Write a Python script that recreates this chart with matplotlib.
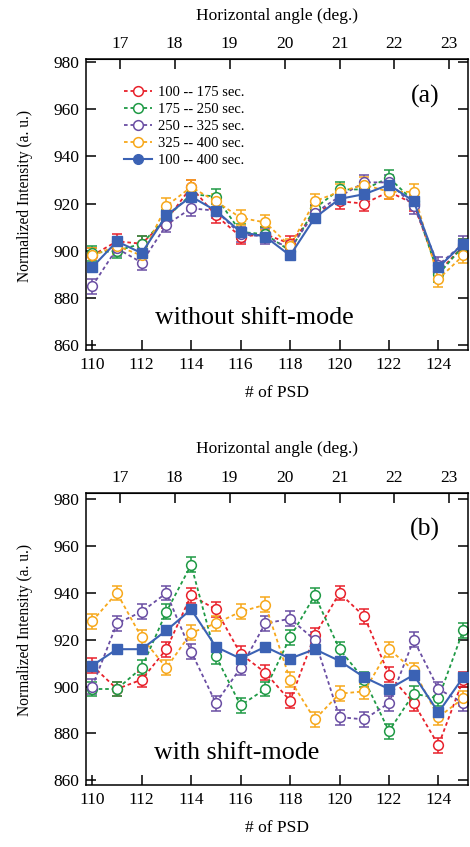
import numpy as np
import matplotlib.pyplot as plt
from matplotlib.lines import Line2D

plt.rcParams['font.family'] = ['Liberation Serif', 'DejaVu Serif']
plt.rcParams['mathtext.fontset'] = 'stix'

psd = np.arange(110, 126)

labels = ['100 -- 175 sec.', '175 -- 250 sec.', '250 -- 325 sec.', '325 -- 400 sec.', '100 -- 400 sec.']
colors = ['#e8212b', '#1f9a45', '#6a4ea3', '#f7a81b', '#3b62b4']

# panel (a): without shift-mode
a_red    = [898, 904, 903, 913, 927, 915, 906, 907, 903, 916, 921, 920, 925, 920, 891, 902]
a_green  = [899, 900, 903, 914, 924, 923, 908, 907, 900, 918, 926, 926, 931, 921, 890, 902]
a_purple = [885, 901, 895, 911, 918, 917, 907, 906, 901, 916, 923, 929, 929, 919, 894, 903]
a_orange = [898, 902, 898, 919, 927, 921, 914, 912, 902, 921, 925, 928, 925, 925, 888, 898]
a_blue   = [893, 904, 899, 915, 923, 917, 908, 906, 898, 914, 922, 924, 928, 921, 893, 903]

# panel (b): with shift-mode
b_red    = [909, 899, 903, 916, 939, 933, 914, 906, 894, 922, 940, 930, 905, 893, 875, 903]
b_green  = [899, 899, 908, 932, 952, 913, 892, 899, 921, 939, 916, 903, 881, 897, 895, 924]
b_purple = [900, 927, 932, 940, 915, 893, 908, 927, 929, 920, 887, 886, 893, 920, 899, 893]
b_orange = [928, 940, 921, 908, 923, 927, 932, 935, 903, 886, 897, 898, 916, 907, 887, 895]
b_blue   = [909, 916, 916, 924, 933, 917, 912, 917, 912, 916, 911, 904, 899, 905, 889, 904]

err_open = 3.2
err_blue = 1.5

angle_ticks = [17, 18, 19, 20, 21, 22, 23]


def psd2angle(p):
    return 0.45 * p - 33


def angle2psd(a):
    return (a + 33) / 0.45


def draw_panel(ax, series, tag, note, ytop):
    for vals, col in zip(series[:4], colors[:4]):
        ax.errorbar(psd, vals, yerr=err_open, color=col, ls=(0, (2, 1.6)), lw=1.3,
                    marker='o', ms=7, mfc='white', mec=col, mew=1.1,
                    capsize=3.5, elinewidth=1.1, capthick=1.1)
    ax.errorbar(psd, series[4], yerr=err_blue, color=colors[4], ls='-', lw=1.5,
                marker='s', ms=6.5, mfc=colors[4], mec=colors[4],
                capsize=3, elinewidth=1.1, capthick=1.1, zorder=5)

    ax.set_xlim(109.75, 125.2)
    ax.set_ylim(858, ytop)
    ax.set_xticks(range(110, 125, 2))
    ax.set_yticks(range(860, 981, 20))
    ax.tick_params(direction='in', length=7, width=1.1, labelsize=12.5,
                   top=False, right=True, pad=5)
    for s in ax.spines.values():
        s.set_linewidth(1.1)
    ax.set_xlabel('# of PSD', fontsize=12.5, labelpad=9)
    ax.set_ylabel('Normalized Intensity (a. u.)', fontsize=11.2)
    ax.yaxis.set_label_coords(-0.14, 0.53)

    sec = ax.secondary_xaxis('top', functions=(psd2angle, angle2psd))
    sec.set_xticks(angle_ticks)
    sec.tick_params(direction='in', length=7, width=1.1, labelsize=12.5, pad=5)
    sec.set_xlabel('Horizontal angle (deg.)', fontsize=12.5, labelpad=12)

    ax.text(0.887, 0.873, tag, transform=ax.transAxes, fontsize=18.5,
            ha='center', va='center')
    ax.text(note[1], 0.11, note[0], transform=ax.transAxes, fontsize=18.7,
            ha='center', va='center')


fig = plt.figure(figsize=(4.70, 8.47), dpi=100)
ax_a = fig.add_axes([0.183, 0.587, 0.813, 0.343])
ax_b = fig.add_axes([0.183, 0.0732, 0.813, 0.345])

draw_panel(ax_a, [a_red, a_green, a_purple, a_orange, a_blue], '(a)',
           ('without shift-mode', 0.44), 981.2)
draw_panel(ax_b, [b_red, b_green, b_purple, b_orange, b_blue], '(b)',
           ('with shift-mode', 0.395), 982.8)

handles = []
for col in colors[:4]:
    handles.append(Line2D([], [], color=col, ls=(0, (2, 1.6)), lw=1.3, marker='o',
                          ms=7, mfc='white', mec=col, mew=1.1))
handles.append(Line2D([], [], color=colors[4], ls='-', lw=1.5, marker='o', ms=7,
                      mfc=colors[4], mec=colors[4]))
ax_a.legend(handles, labels, loc='upper left', bbox_to_anchor=(0.1, 0.91),
            frameon=False, fontsize=10.5, handlelength=1.9, handletextpad=0.4,
            labelspacing=0.27, borderpad=0, borderaxespad=0)

fig.savefig('out.png', dpi=100)
